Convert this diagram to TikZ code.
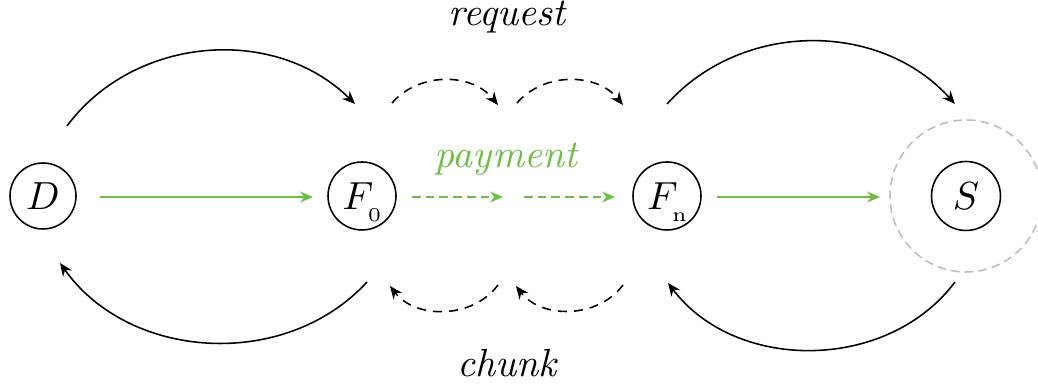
\documentclass[tikz,border=0pt]{standalone}
\usetikzlibrary{arrows.meta}
\definecolor{paygreen}{RGB}{110,190,70}
\definecolor{ringgray}{RGB}{190,190,190}
\def\pxu{0.255pt}
\newcommand{\lowsub}[1]{\kern-1.39pt\raisebox{-3pt}[0pt][0pt]{$\scriptscriptstyle #1$}}
\begin{document}
\begin{tikzpicture}[x=0.255pt,y=0.255pt,
  peer/.style={draw,circle,line width=0.4pt,inner sep=0pt,minimum size=66*\pxu},
  tip/.style={-{Stealth[length=3.3pt,width=2.8pt]}},
  flow/.style={tip,line width=0.4pt},
  dflow/.style={tip,line width=0.4pt,dash pattern=on 2.3pt off 1.8pt},
  pay/.style={tip,paygreen,line width=0.4pt},
  dpay/.style={tip,paygreen,line width=0.4pt,dash pattern=on 2.2pt off 1.3pt},
  lbl/.style={anchor=base,font=\itshape}]
\useasboundingbox (0,0) rectangle (1038,388);
% nodes
\node[peer] (D) at (43,192) {$D$};
\node[peer,minimum size=68*\pxu] (F0) at (362,192) {$F$\lowsub{0}};
\node[peer,minimum size=68*\pxu] (Fn) at (667,192) {$F$\lowsub{\mathrm{n}}};
\node[peer,minimum size=69*\pxu] (S) at (966,192) {$S$};
\node[draw=ringgray,circle,inner sep=0pt,dash pattern=on 2.2pt off 1.3pt,minimum size=152*\pxu] (ring) at (S) {};
% labels
\node[lbl] (req) at (507,362) {request};
\node[lbl,text=paygreen] (pay) at (506,220) {payment};
\node[lbl] (chk) at (507,11) {chunk};
% coordinates
\coordinate (r1s) at (67,262);  \coordinate (r1e) at (355,284);
\coordinate (r2s) at (392,285); \coordinate (r2e) at (498,283);
\coordinate (r3s) at (517,285); \coordinate (r3e) at (623,283);
\coordinate (r4s) at (667,284); \coordinate (r4e) at (955,284);
\coordinate (c1s) at (367,106); \coordinate (c1e) at (60,125);
\coordinate (c2s) at (498,103); \coordinate (c2e) at (390,102);
\coordinate (c3s) at (623,103); \coordinate (c3e) at (516,102);
\coordinate (c4s) at (955,106); \coordinate (c4e) at (668,105);
\coordinate (p1s) at (100,191); \coordinate (p1e) at (313,191);
\coordinate (p2s) at (412,191); \coordinate (p2e) at (503,191);
\coordinate (p3s) at (524,191); \coordinate (p3e) at (615,191);
\coordinate (p4s) at (717,191); \coordinate (p4e) at (880,191);
% request arcs
\draw[flow] (r1s) to[bend left=49] (r1e);
\draw[dflow] (r2s) to[bend left=50] (r2e);
\draw[dflow] (r3s) to[bend left=50] (r3e);
\draw[flow] (r4s) to[bend left=48] (r4e);
% chunk arcs
\draw[flow] (c1s) to[bend left=51] (c1e);
\draw[dflow] (c2s) to[bend left=53] (c2e);
\draw[dflow] (c3s) to[bend left=53] (c3e);
\draw[flow] (c4s) to[bend left=53] (c4e);
% payment
\draw[pay] (p1s) -- (p1e);
\draw[dpay] (p2s) -- (p2e);
\draw[dpay] (p3s) -- (p3e);
\draw[pay] (p4s) -- (p4e);
\end{tikzpicture}
\end{document}
